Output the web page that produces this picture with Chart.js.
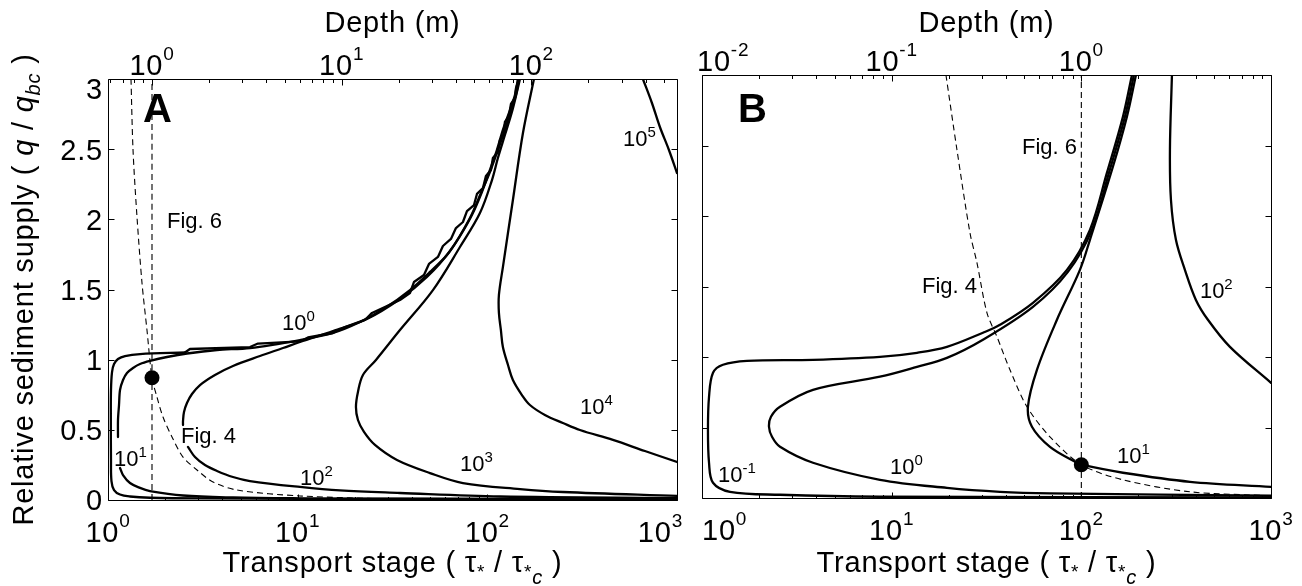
<!DOCTYPE html>
<html>
<head>
<meta charset="utf-8">
<script src="https://cdn.jsdelivr.net/npm/chart.js@4.4.0/dist/chart.umd.min.js"></script>
<style>
  html, body { margin: 0; padding: 0; background: #fff; }
  #wrap { position: relative; width: 1302px; height: 586px; overflow: hidden; background: #fff; }
  canvas { position: absolute; top: 0; }
</style>
</head>
<body>
<div id="wrap">
  <canvas id="panelA" width="690" height="586" style="left:0;width:690px;height:586px"></canvas>
  <canvas id="panelB" width="612" height="586" style="left:690px;width:612px;height:586px"></canvas>
</div>
<script>
const FONT = '"Liberation Sans", Arial, Helvetica, sans-serif';

// ---- axes ----
const stageTicks = [1, 10, 100, 1000];
const stageExps = ['0', '1', '2', '3'];
const depthTicksA = [1, 10, 100];
const depthExpsA = ['0', '1', '2'];
const depthTicksB = [0.01, 0.1, 1];
const depthExpsB = ['-2', '-1', '0'];
// transport stage at which the flow depth is 1 m
const stageAtUnitDepthA = 1.706;
const stageAtUnitDepthB = 100;
const supplyTicks = [0, 0.5, 1, 1.5, 2, 2.5, 3];
const supplyLabels = ['0', '0.5', '1', '1.5', '2', '2.5', '3'];

// ---- panel A contours: [transport stage, relative supply] ----
const a_c0Low = [[1000,0.005],[34.6,0.007],[3.06,0.011],[1.665,0.016],[1.306,0.025],[1.157,0.039],
  [1.076,0.071],[1.043,0.135],[1.037,0.285],[1.035,0.570],[1.037,0.784],[1.050,0.912],[1.076,0.969],
  [1.129,1.005],[1.229,1.026],[1.475,1.040],[2.546,1.051]];
const a_c0Up = [[2.546,1.051],[2.705,1.076],[5.607,1.090],[6.176,1.115],[10.28,1.130],[11.33,1.158],
  [15.35,1.190],[17.76,1.233],[22.63,1.283],[24.65,1.333],[34.62,1.425],[39.08,1.475],[41.03,1.553],
  [46.33,1.603],[49.23,1.682],[54.90,1.732],[58.33,1.810],[64.29,1.860],[68.32,1.938],[74.37,1.981],
  [78.09,2.059],[85.03,2.102],[88.18,2.181],[94.80,2.223],[98.31,2.309],[104.5,2.352],[107.0,2.437],
  [113.7,2.480],[116.5,2.565],[122.3,2.608],[123.8,2.694],[130.0,2.736],[133.2,2.822],[139.8,2.865],
  [141.6,2.936],[145.0,2.979],[145.0,3.0]];
const a_c1Up = [[145.0,3.0],[139.8,2.886],[131.6,2.779],[120.8,2.637],[112.3,2.494],[103.2,2.352],
  [93.64,2.195],[82.95,2.031],[71.72,1.881],[61.24,1.746],[49.83,1.625],[39.08,1.496],[28.86,1.368],
  [21.30,1.268],[15.35,1.190],[10.28,1.140],[5.607,1.083],[3.755,1.069],[2.608,1.044],[2.046,1.019],
  [1.665,0.991],[1.475,0.969],[1.355,0.941],[1.259,0.905],[1.200,0.855],[1.157,0.784],[1.143,0.677],
  [1.129,0.570],[1.129,0.449]];
const a_c1Low = [[1.157,0.228],[1.200,0.178],[1.306,0.121],[1.475,0.086],[1.665,0.064],[2.486,0.032],
  [4.560,0.018],[10.28,0.012],[34.62,0.009],[1000,0.006]];
const a_c2Up = [[146.7,3.0],[141.6,2.886],[133.2,2.779],[123.8,2.637],[113.7,2.494],[103.2,2.337],
  [92.54,2.188],[80.97,2.010],[63.51,1.774],[48.05,1.589],[34.62,1.432],[23.19,1.290],[15.35,1.204],
  [10.28,1.126],[8.365,1.083],[6.329,1.026],[4.560,0.955],[3.664,0.891],[3.055,0.819],[2.772,0.755],
  [2.608,0.691],[2.516,0.627],[2.486,0.563],[2.486,0.534]];
const a_c2Low = [[2.640,0.378],[2.875,0.306],[3.246,0.249],[3.755,0.207],[4.560,0.164],[5.607,0.135],
  [10.28,0.093],[16.71,0.068],[34.62,0.050],[116.5,0.025],[1000,0.014]];
const a_c3 = [[148.6,3.0],[143.2,2.907],[134.8,2.765],[123.8,2.601],[113.7,2.437],[105.8,2.280],
  [91.41,2.045],[71.72,1.803],[51.67,1.496],[34.62,1.211],[25.87,0.998],[22.09,0.891],[20.79,0.770],
  [20.29,0.663],[20.79,0.570],[22.37,0.485],[25.56,0.392],[33.38,0.285],[49.83,0.192],[74.37,0.121],
  [148.6,0.078],[250.3,0.057],[1000,0.029]];
const a_c4 = [[176.1,3.0],[154.1,2.615],[136.4,2.138],[120.8,1.660],[115.1,1.461],[115.1,1.333],
  [117.9,1.211],[120.8,1.090],[128.5,0.962],[136.4,0.855],[152.2,0.748],[167.7,0.677],[201.2,0.606],
  [250.3,0.549],[307.7,0.499],[459.3,0.428],[677.3,0.349],[1000,0.271]];
const a_c5 = [[661.1,3.0],[737.6,2.829],[812.6,2.658],[906.8,2.494],[1000,2.330]];
const a_fig6 = [[1.706,0],[1.706,3]];
const a_fig4 = [[1.322,3.0],[1.355,2.494],[1.422,2.017],[1.511,1.546],[1.605,1.211],[1.706,0.871],
  [1.812,0.734],[1.950,0.591],[2.175,0.449],[2.486,0.306],[2.946,0.214],[3.577,0.128],[4.786,0.071],
  [10.28,0.029],[34.62,0.007],[100,0.003]];
const a_point = [[1.706,0.871]];

// ---- panel B contours ----
const b_cm1 = [[184.9,3.0],[165.7,2.704],[136.4,2.306],[111.0,1.902],[83.97,1.618],[55.57,1.384],
  [37.24,1.228],[30.29,1.172],[19.56,1.072],[13.60,1.030],[8.677,1.001],[3.847,0.980],[1.726,0.973],
  [1.290,0.945],[1.143,0.888],[1.089,0.718],[1.075,0.484],[1.089,0.250],[1.143,0.108],[1.405,0.044],
  [2.578,0.023],[8.677,0.009],[1000,0.004]];
const b_c0 = [[189.4,3.0],[169.8,2.704],[139.8,2.306],[113.7,1.902],[84.98,1.604],[55.57,1.356],
  [30.29,1.123],[19.56,0.994],[13.60,0.930],[8.677,0.860],[3.847,0.767],[2.578,0.647],[2.310,0.576],
  [2.255,0.505],[2.339,0.434],[2.578,0.363],[3.847,0.250],[8.677,0.129],[19.56,0.072],[37.24,0.044],
  [68.32,0.033],[1000,0.016]];
const b_c1 = [[194.1,3.0],[173.9,2.704],[146.7,2.349],[111.0,1.831],[98.31,1.618],[74.37,1.264],
  [58.33,0.909],[52.30,0.647],[54.90,0.505],[68.32,0.363],[94.80,0.250],[100,0.236],[165.7,0.179],
  [373.8,0.115],[1000,0.079]];
const b_c2 = [[300.4,3.0],[293.2,2.470],[296.8,2.115],[315.3,1.831],[351.6,1.618],[401.9,1.405],
  [464.9,1.264],[607.4,1.072],[1000,0.817]];
const b_fig6 = [[100,0],[100,3]];
const b_fig4 = [[19.33,3.0],[22.09,2.470],[25.87,1.881],[28.17,1.668],[31.80,1.313],[35.92,1.143],
  [42.04,0.909],[51.67,0.647],[68.32,0.434],[100,0.236],[165.7,0.129],[373.8,0.044],[1000,0.016]];
const b_point = [[100,0.236]];

// ---- in-plot annotations (anchor = left end of text, baseline) ----
const levelExpsA = ['0', '1', '2', '3', '4', '5'];
const levelAtA = [[8.265,1.211],[1.076,0.242],[10.28,0.107],[71.72,0.207],[307.7,0.613],[518.6,2.523]];
const levelExpsB = ['-1', '0', '1', '2'];
const levelAtB = [[1.214,0.115],[9.795,0.172],[154.1,0.250],[421.8,1.420]];
const noteTextA = ['Fig. 6', 'Fig. 4'];
const noteAtA = [[2.046,1.938],[2.426,0.406]];
const noteTextB = ['Fig. 4', 'Fig. 6'];
const noteAtB = [[14.45,1.455],[48.64,2.441]];

// ---- dataset helpers ----
const pts = arr => arr.map(p => ({ x: p[0], y: p[1] }));
function solid(arr, tension) {
  return { data: pts(arr), showLine: true, borderColor: '#000', backgroundColor: '#000',
    borderWidth: 2.3, pointRadius: 0, tension: tension === undefined ? 0.35 : tension,
    borderCapStyle: 'round', borderJoinStyle: 'round', fill: false };
}
function dashed(arr) {
  return { data: pts(arr), showLine: true, borderColor: '#000', backgroundColor: '#000',
    borderWidth: 1.1, borderDash: [6, 4], pointRadius: 0, tension: 0.3, fill: false };
}
function marker(arr) {
  return { data: pts(arr), showLine: false, pointRadius: 7.5, pointHoverRadius: 7.5,
    backgroundColor: '#000', borderColor: '#000', borderWidth: 0 };
}

// ---- text helpers ----
function setFont(ctx, r) {
  ctx.font = (r.italic ? 'italic ' : '') + (r.bold ? 'bold ' : '') + r.size + 'px ' + FONT;
}
function runsWidth(ctx, runs) {
  let w = 0;
  for (const r of runs) { setFont(ctx, r); w += ctx.measureText(r.t).width; }
  return w;
}
function drawRuns(ctx, runs, x, y) {
  let cx = x;
  for (const r of runs) {
    setFont(ctx, r);
    ctx.fillText(r.t, cx, y + (r.dy || 0));
    cx += ctx.measureText(r.t).width;
  }
  return cx - x;
}
const powerRuns = (exp, base, sup, raise) => [{ t: '10', size: base }, { t: exp, size: sup, dy: -raise }];

function logTicks(min, max) {
  const out = [];
  for (let e = Math.floor(Math.log10(min)); e <= Math.ceil(Math.log10(max)); e++) {
    for (let m = 1; m < 10; m++) {
      const v = m * Math.pow(10, e);
      if (v >= min * 0.999 && v <= max * 1.001) out.push({ v, major: m === 1 });
    }
  }
  return out;
}

const panels = {
  panelA: {
    letter: 'A', letterAt: [1.529, 2.694],
    depthTicks: depthTicksA, depthExps: depthExpsA,
    supplyLabels: true, yTitle: true,
    slack: { bottomLeft: 99, bottomRight: 6, topLeft: 99 },
    levelExps: levelExpsA, levelAt: levelAtA, noteText: noteTextA, noteAt: noteAtA
  },
  panelB: {
    letter: 'B', letterAt: [1.548, 2.668],
    depthTicks: depthTicksB, depthExps: depthExpsB,
    supplyLabels: false, yTitle: false,
    slack: { bottomLeft: 0, bottomRight: 99, topLeft: 5 },
    levelExps: levelExpsB, levelAt: levelAtB, noteText: noteTextB, noteAt: noteAtB
  }
};

const crisp = v => Math.round(v) + 0.5;

const paperAxes = {
  id: 'paperAxes',
  afterDraw(chart) {
    const cfg = panels[chart.canvas.id];
    const ctx = chart.ctx, a = chart.chartArea;
    const sx = chart.scales.x, sy = chart.scales.y, st = chart.scales.xTop;
    ctx.save();
    ctx.strokeStyle = '#000';
    ctx.fillStyle = '#000';
    ctx.lineWidth = 1;
    ctx.setLineDash([]);
    const L = crisp(a.left), R = crisp(a.right), T = crisp(a.top), B = crisp(a.bottom);
    const seg = (x1, y1, x2, y2) => { ctx.beginPath(); ctx.moveTo(x1, y1); ctx.lineTo(x2, y2); ctx.stroke(); };

    // frame
    ctx.beginPath(); ctx.rect(L, T, R - L, B - T); ctx.stroke();

    const MAJ = 6, MIN = 3.5;
    // bottom (transport stage) ticks
    for (const t of logTicks(sx.min, sx.max)) {
      const px = crisp(sx.getPixelForValue(t.v));
      seg(px, B, px, B - (t.major ? MAJ : MIN));
    }
    // top (depth) ticks
    for (const t of logTicks(st.min, st.max)) {
      const px = crisp(st.getPixelForValue(t.v));
      seg(px, T, px, T + (t.major ? MAJ : MIN));
    }
    // supply ticks, both sides
    for (const v of supplyTicks) {
      const py = crisp(sy.getPixelForValue(v));
      seg(L, py, L + MAJ, py);
      seg(R, py, R - MAJ, py);
    }

    ctx.textAlign = 'left';
    ctx.textBaseline = 'alphabetic';
    ctx.letterSpacing = '0.8px';

    // bottom tick labels
    stageTicks.forEach((v, i) => {
      const runs = powerRuns(stageExps[i], 29, 19, 15);
      const w = runsWidth(ctx, runs);
      let x0 = sx.getPixelForValue(v) - w / 2;
      x0 = Math.max(x0, a.left - cfg.slack.bottomLeft);
      x0 = Math.min(x0, a.right + cfg.slack.bottomRight - w);
      drawRuns(ctx, runs, x0, a.bottom + 42);
    });
    // top tick labels
    cfg.depthTicks.forEach((v, i) => {
      const runs = powerRuns(cfg.depthExps[i], 29, 19, 15);
      const w = runsWidth(ctx, runs);
      let x0 = st.getPixelForValue(v) - w / 2;
      x0 = Math.max(x0, a.left - cfg.slack.topLeft);
      drawRuns(ctx, runs, x0, a.top - 4);
    });
    // supply tick labels
    if (cfg.supplyLabels) {
      supplyTicks.forEach((v, i) => {
        const runs = [{ t: supplyLabels[i], size: 29 }];
        const w = runsWidth(ctx, runs);
        const base = Math.max(sy.getPixelForValue(v) + 10.4, a.top + 19.5);
        drawRuns(ctx, runs, a.left - 5 - w, base);
      });
    }

    // axis titles
    const cx = (a.left + a.right) / 2;
    const xTitle = [
      { t: 'Transport stage ( ', size: 29 }, { t: 'τ', size: 29 }, { t: '*', size: 19, dy: 6 },
      { t: ' / ', size: 29 }, { t: 'τ', size: 29 }, { t: '*', size: 19, dy: 6 },
      { t: 'c', size: 20, italic: true, dy: 12 }, { t: ' )', size: 29 }
    ];
    drawRuns(ctx, xTitle, cx - runsWidth(ctx, xTitle) / 2, 572);
    const topTitle = [{ t: 'Depth (m)', size: 29 }];
    drawRuns(ctx, topTitle, cx - runsWidth(ctx, topTitle) / 2, 32);
    if (cfg.yTitle) {
      const yTitle = [
        { t: 'Relative sediment supply ( ', size: 29 }, { t: 'q', size: 29, italic: true },
        { t: ' / ', size: 29 }, { t: 'q', size: 29, italic: true },
        { t: 'bc', size: 20, italic: true, dy: 7 }, { t: ' )', size: 29 }
      ];
      ctx.save();
      ctx.translate(33, (a.top + a.bottom) / 2);
      ctx.rotate(-Math.PI / 2);
      drawRuns(ctx, yTitle, -runsWidth(ctx, yTitle) / 2, 0);
      ctx.restore();
    }

    ctx.letterSpacing = '0px';
    // contour level labels
    cfg.levelExps.forEach((e, i) => {
      const p = cfg.levelAt[i];
      drawRuns(ctx, powerRuns(e, 22, 15, 9), sx.getPixelForValue(p[0]), sy.getPixelForValue(p[1]));
    });
    // figure references
    cfg.noteText.forEach((s, i) => {
      const p = cfg.noteAt[i];
      drawRuns(ctx, [{ t: s, size: 22 }], sx.getPixelForValue(p[0]), sy.getPixelForValue(p[1]));
    });
    // panel letter
    drawRuns(ctx, [{ t: cfg.letter, size: 40, bold: true }],
      sx.getPixelForValue(cfg.letterAt[0]), sy.getPixelForValue(cfg.letterAt[1]));
    ctx.restore();
  }
};

function makeChart(id, k, padding, datasets) {
  return new Chart(document.getElementById(id), {
    type: 'scatter',
    data: { datasets },
    options: {
      responsive: false, animation: false, devicePixelRatio: 1, events: [],
      layout: { padding },
      plugins: { legend: { display: false }, tooltip: { enabled: false } },
      scales: {
        x: { type: 'logarithmic', min: 1, max: 1000, display: false },
        y: { type: 'linear', min: 0, max: 3, display: false },
        xTop: { type: 'logarithmic', axis: 'x', position: 'top', min: 1 / k, max: 1000 / k, display: false }
      }
    },
    plugins: [paperAxes]
  });
}

makeChart('panelA', stageAtUnitDepthA, { left: 108, right: 13, top: 79, bottom: 86 }, [
  solid(a_c0Low), solid(a_c0Up, 0), solid(a_c1Up, 0.3), solid(a_c1Low),
  solid(a_c2Up), solid(a_c2Low), solid(a_c3), solid(a_c4), solid(a_c5),
  dashed(a_fig6), dashed(a_fig4), marker(a_point)
]);

makeChart('panelB', stageAtUnitDepthB, { left: 12, right: 31, top: 75, bottom: 88 }, [
  solid(b_cm1), solid(b_c0), solid(b_c1), solid(b_c2),
  dashed(b_fig6), dashed(b_fig4), marker(b_point)
]);
</script>
</body>
</html>
